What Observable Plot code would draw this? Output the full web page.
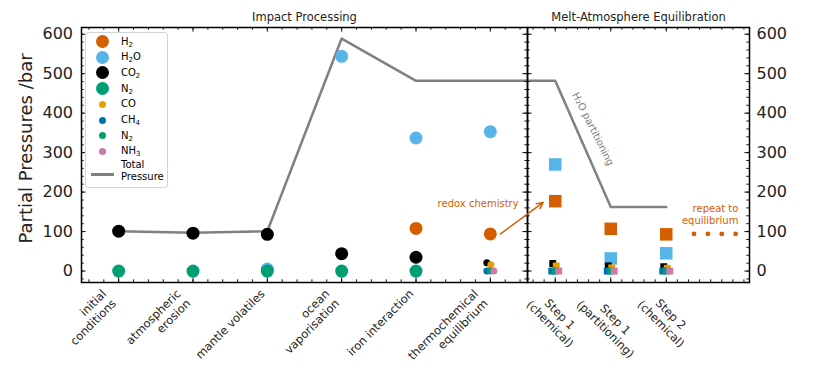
<!DOCTYPE html>
<html><head><meta charset="utf-8">
<script src="https://cdn.jsdelivr.net/npm/d3@7"></script>
<script src="https://cdn.jsdelivr.net/npm/@observablehq/plot@0.6"></script>
<style>
body{margin:0;background:#fff;font-family:"DejaVu Sans",sans-serif;}
#chart{position:relative;width:814px;height:376px;overflow:hidden;}
#chart svg{position:absolute;left:0;top:0;}
#legend{position:absolute;left:85px;top:32px;width:83px;height:156px;box-sizing:border-box;border:1px solid #d3d3d3;border-radius:3px;background:rgba(255,255,255,0.8);font-size:10px;color:#000;}
#legend .row{position:absolute;left:0;height:14px;width:100%;}
#legend .mk{position:absolute;border-radius:50%;}
#legend .lab{position:absolute;left:35px;line-height:14px;white-space:nowrap;}
#legend sub{font-size:70%;line-height:0;vertical-align:-0.3em;}
</style></head>
<body><div id="chart"></div>
<script>
// ---------------- data ----------------
const impactStages = ["initial\nconditions", "atmospheric\nerosion", "mantle volatiles", "ocean\nvaporisation", "iron interaction", "thermochemical\nequilibrium"];
const meltStages = ["Step 1\n(chemical)", "Step 1\n(partitioning)", "Step 2\n(chemical)"];

// Impact processing: main species (large circles)
const impactH2  = [null, null, null, null, 108, 94];
const impactH2O = [null, null, 5, 544, 337, 353];
const impactCO2 = [101, 96, 93, 44, 35, null];
const impactN2  = [0, 0, 0, 0, 0, null];
// Impact processing: trace species after thermochemical equilibrium (small circles)
const impactCO2minor = [null, null, null, null, null, 21];
const impactCO       = [null, null, null, null, null, 16];
const impactCH4      = [null, null, null, null, null, 0];
const impactN2minor  = [null, null, null, null, null, 0];
const impactNH3      = [null, null, null, null, null, 0];
const impactTotal    = [101, 97, 101, 589, 482, 482];

// Melt-atmosphere equilibration (squares)
const meltH2  = [177, 107, 93];
const meltH2O = [270, 32, 45];
const meltCO2 = [19, 13, 11];
const meltCO  = [13, 8, 7];
const meltCH4 = [0, 0, 0];
const meltN2  = [0, 0, 0];
const meltNH3 = [0, 0, 0];
const meltTotal = [482, 162, 162];

// "repeat to equilibrium" dotted continuation
const repeatSteps = [2.5, 2.75, 3.0, 3.25];
const repeatH2 = [94, 94, 94, 94];

const yTicks = [0, 100, 200, 300, 400, 500, 600];

const colors = {H2: "#d55e00", H2O: "#56b4e9", CO2: "#000000", N2: "#009e73", CO: "#e69f00", CH4: "#0072b2", NH3: "#cc79a7", total: "#808080"};

const legendLabels = ["H<sub>2</sub>", "H<sub>2</sub>O", "CO<sub>2</sub>", "N<sub>2</sub>", "CO", "CH<sub>4</sub>", "N<sub>2</sub>", "NH<sub>3</sub>"];
const legendColors = [colors.H2, colors.H2O, colors.CO2, colors.N2, colors.CO, colors.CH4, colors.N2, colors.NH3];
const legendBig = [true, true, true, true, false, false, false, false];

// ---------------- layout ----------------
const W = 814, H = 376;
const fTop = 27, fBottom = 282, fLeft = 81, fMid = 527, fRight = 749;
const yDomain = [-29, 617];
const font = "DejaVu Sans";
const yMinor = d3.range(-20, 601, 20);

const ctx = document.createElement("canvas").getContext("2d");
function textWidth(s, size) { ctx.font = `${size}px "${font}"`; return ctx.measureText(s).width; }
const pts = (values) => values.map((v, i) => ({x: i, y: v})).filter(d => d.y != null);

function frameDecor(xMajor, xMinor, fw, fh) {
  const M = 4.7, m = 2.7, sw = 0.9;
  const tx = (vals, len, side) => Plot.tickX(vals, {x: d => d, stroke: "#000", strokeWidth: sw, [side === "bottom" ? "insetTop" : "insetBottom"]: fh - len});
  const ty = (vals, len, side) => Plot.tickY(vals, {y: d => d, stroke: "#000", strokeWidth: sw, [side === "left" ? "insetRight" : "insetLeft"]: fw - len});
  return [tx(xMinor, m, "bottom"), tx(xMinor, m, "top"), tx(xMajor, M, "bottom"), tx(xMajor, M, "top"),
          ty(yMinor, m, "left"), ty(yMinor, m, "right"), ty(yTicks, M, "left"), ty(yTicks, M, "right"),
          Plot.frame({stroke: "#000", strokeWidth: 1.5})];
}

const xfs = 11.5, xlh = 1.2, xpad = 5;

// ---------------- left panel ----------------
const leftMarks = [
  Plot.line([...pts(impactTotal), {x: 6, y: meltTotal[0]}], {x: "x", y: "y", stroke: colors.total, strokeWidth: 2.5, clip: true}),
  Plot.dot(pts(impactH2), {x: "x", y: "y", r: 6.5, fill: colors.H2}),
  Plot.dot(pts(impactH2O), {x: "x", y: "y", r: 6.5, fill: colors.H2O}),
  Plot.dot(pts(impactCO2), {x: "x", y: "y", r: 6.5, fill: colors.CO2}),
  Plot.dot(pts(impactN2), {x: "x", y: "y", r: 6.5, fill: colors.N2}),
  Plot.dot(pts(impactCO2minor), {x: "x", y: "y", r: 3.5, fill: colors.CO2, dx: -3.5}),
  Plot.dot(pts(impactCO), {x: "x", y: "y", r: 3.5, fill: colors.CO, dx: 0.5}),
  Plot.dot(pts(impactCH4), {x: "x", y: "y", r: 3.5, fill: colors.CH4, dx: -3.5}),
  Plot.dot(pts(impactN2minor), {x: "x", y: "y", r: 3.5, fill: colors.N2, dx: 0}),
  Plot.dot(pts(impactNH3), {x: "x", y: "y", r: 3.5, fill: colors.NH3, dx: 3.5}),
  ...frameDecor(d3.range(0, 6), d3.range(-0.4, 5.5, 0.2), fMid - fLeft, fBottom - fTop),
  Plot.text(yTicks, {y: d => d, frameAnchor: "left", dx: -8.5, textAnchor: "end", fontSize: 16, fill: "#222"}),
  Plot.text(["Partial Pressures /bar"], {frameAnchor: "left", dx: 26 - fLeft, dy: -6.5, rotate: -90, textAnchor: "middle", lineAnchor: "middle", fontSize: 18, fill: "#222"}),
  Plot.text(["Impact Processing"], {frameAnchor: "top", dy: -15, fontSize: 11.5, fill: "#222"}),
  Plot.text(["redox chemistry"], {x: 5.38, y: 171, textAnchor: "end", fontSize: 10, fill: colors.H2}),
  ...impactStages.map((s, i) => {
    const n = s.split("\n").length;
    return Plot.text([s], {x: () => i, frameAnchor: "bottom", dy: xpad, dx: -0.707 * n * xlh * xfs + 1,
      rotate: -45, textAnchor: "end", lineAnchor: "top", fontSize: xfs, lineHeight: xlh, fill: "#222"});
  })
];

const leftPlot = Plot.plot({
  width: W, height: H,
  marginLeft: fLeft, marginRight: W - fMid, marginTop: fTop, marginBottom: H - fBottom,
  x: {domain: [-0.5, 5.5], axis: null},
  y: {domain: yDomain, axis: null},
  style: {background: "transparent", fontFamily: font, overflow: "visible"},
  marks: leftMarks
});

// ---------------- right panel ----------------
const sq = (vals, r, fill, dx = 0) => Plot.dot(pts(vals), {x: "x", y: "y", symbol: "square", r, fill, dx});
const rightMarks = [
  Plot.line([{x: -1, y: impactTotal[impactTotal.length - 1]}, ...pts(meltTotal)], {x: "x", y: "y", stroke: colors.total, strokeWidth: 2.5, clip: true}),
  sq(meltH2, 7.05, colors.H2),
  sq(meltH2O, 7.05, colors.H2O),
  sq(meltCO2, 3.9, colors.CO2, -2.5),
  sq(meltCO, 3.9, colors.CO, 1),
  sq(meltCH4, 3.9, colors.CH4, -3.5),
  sq(meltN2, 3.9, colors.N2, 0),
  sq(meltNH3, 3.9, colors.NH3, 3.5),
  Plot.dot(repeatSteps.map((s, i) => ({x: s, y: repeatH2[i]})), {x: "x", y: "y", r: 2.4, fill: colors.H2}),
  ...frameDecor(d3.range(0, 3), d3.range(-0.4, 3.5, 0.2), fRight - fMid, fBottom - fTop),
  Plot.text(yTicks, {y: d => d, frameAnchor: "right", dx: 7, textAnchor: "start", fontSize: 16, fill: "#222"}),
  Plot.text(["Melt-Atmosphere Equilibration"], {frameAnchor: "top", dy: -15, fontSize: 11.5, fill: "#222"}),
  Plot.text(["H₂O partitioning"], {x: 0.68, y: 360, rotate: 63.4, fontSize: 10, fill: colors.total}),
  Plot.text(["repeat to\nequilibrium"], {x: 3.30, y: 143, textAnchor: "end", fontSize: 10, lineHeight: 1.2, fill: colors.H2}),
  Plot.arrow([null], {x1: -0.986, y1: 94, x2: -0.217, y2: 174, stroke: colors.H2, strokeWidth: 1.5, headLength: 7, headAngle: 50}),
  ...meltStages.map((s, i) => {
    const lines = s.split("\n");
    const wmax = d3.max(lines, l => textWidth(l, xfs));
    const hb = lines.length * xlh * xfs;
    return Plot.text([s], {x: () => i, frameAnchor: "bottom", dy: xpad + 0.707 * (wmax + hb) / 2,
      rotate: 45, textAnchor: "middle", lineAnchor: "middle", fontSize: xfs, lineHeight: xlh, fill: "#222"});
  })
];

const rightPlot = Plot.plot({
  width: W, height: H,
  marginLeft: fMid, marginRight: W - fRight, marginTop: fTop, marginBottom: H - fBottom,
  x: {domain: [-0.5, 3.5], axis: null},
  y: {domain: yDomain, axis: null},
  style: {background: "transparent", fontFamily: font, overflow: "visible"},
  marks: rightMarks
});

const chart = document.getElementById("chart");
chart.appendChild(leftPlot);
chart.appendChild(rightPlot);

// ---------------- legend ----------------
const legend = d3.select(chart).append("div").attr("id", "legend");
legendLabels.forEach((lab, i) => {
  const cy = 8.5 + 15.7 * i;
  const row = legend.append("div").attr("class", "row").style("top", (cy - 7) + "px");
  const d = legendBig[i] ? 13 : 7;
  row.append("div").attr("class", "mk")
    .style("width", d + "px").style("height", d + "px")
    .style("left", (16 - d / 2) + "px").style("top", (7 - d / 2) + "px")
    .style("background", legendColors[i]);
  row.append("div").attr("class", "lab").html(lab);
});
const tot = legend.append("div").attr("class", "row").style("top", "126px").style("height", "30px");
tot.append("div").style("position", "absolute").style("left", "5px").style("top", "14px")
  .style("width", "23px").style("height", "2.5px").style("background", colors.total);
tot.append("div").attr("class", "lab").style("top", "0px").style("line-height", "12px").html("Total<br>Pressure");
</script>
</body></html>
